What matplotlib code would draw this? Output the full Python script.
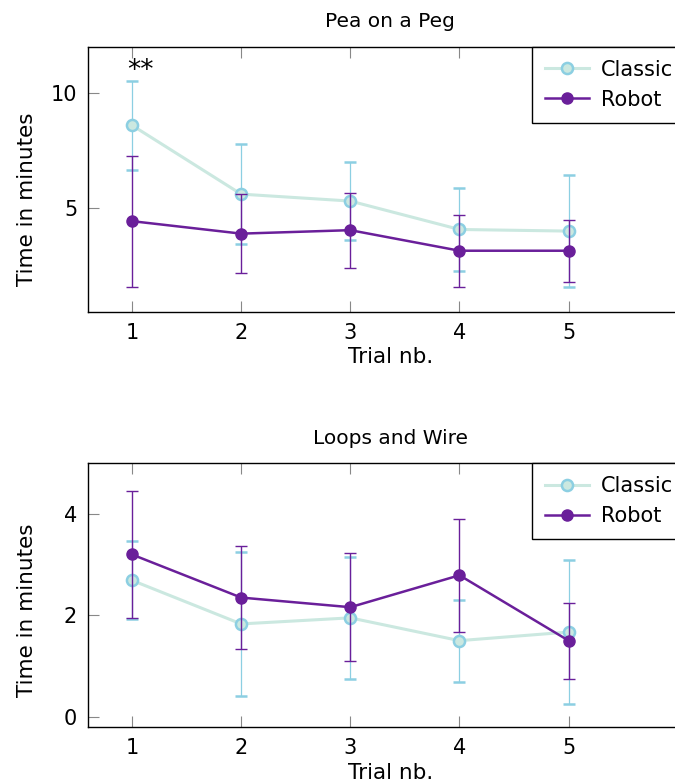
import numpy as np
import matplotlib
matplotlib.use("Agg")
import matplotlib.pyplot as plt
from matplotlib.lines import Line2D

trials = [1, 2, 3, 4, 5]

# Pea on a Peg
peg_classic = [8.60, 5.62, 5.32, 4.09, 4.02]
peg_classic_err = [1.93, 2.15, 1.67, 1.81, 2.44]
peg_robot = [4.45, 3.91, 4.06, 3.17, 3.17]
peg_robot_err = [2.83, 1.72, 1.62, 1.56, 1.34]

# Loops and Wire
wire_classic = [2.69, 1.83, 1.95, 1.50, 1.67]
wire_classic_err = [0.77, 1.42, 1.20, 0.81, 1.42]
wire_robot = [3.20, 2.35, 2.16, 2.79, 1.50]
wire_robot_err = [1.25, 1.02, 1.06, 1.11, 0.75]

classic_line = "#cbe8e0"
classic_edge = "#8ccfe2"
robot_col = "#6a1f9a"

fig = plt.figure(figsize=(6.75, 7.84), dpi=100)

# axes span in pixels: left 88, right 692 (past the figure edge, like the reference)
ax_w = (692 - 88.3) / 675


def draw(ax, classic, classic_err, robot, robot_err, title, ylim, yticks, ylab_y):
    ax.errorbar(trials, classic, yerr=classic_err, color=classic_line, lw=2.2,
                ecolor=classic_edge, elinewidth=0.9, capsize=4, capthick=0.9,
                marker="o", ms=8, mfc=classic_line, mec=classic_edge, mew=1.8,
                zorder=2)
    ax.errorbar(trials, robot, yerr=robot_err, color=robot_col, lw=1.8,
                ecolor=robot_col, elinewidth=1, capsize=4, capthick=1,
                marker="o", ms=8, mfc=robot_col, mec=robot_col,
                zorder=3)
    ax.set_xlim(0.6, 6.13)
    ax.set_ylim(*ylim)
    ax.set_xticks(trials)
    ax.set_yticks(yticks)
    ax.tick_params(direction="in", length=8, color="#888888", labelsize=15,
                   top=True, right=True, pad=8)
    ax.set_title(title, fontsize=14.5, pad=14)
    ax.set_xlabel("Trial nb.", fontsize=15.5, labelpad=3)
    ax.set_ylabel("Time in minutes", fontsize=15.5)
    ax.yaxis.set_label_coords(-0.085, ylab_y)
    for s in ax.spines.values():
        s.set_linewidth(1)
    handles = [
        Line2D([], [], color=classic_line, lw=2.2, marker="o", ms=8,
               mfc=classic_line, mec=classic_edge, mew=1.8),
        Line2D([], [], color=robot_col, lw=1.8, marker="o", ms=8,
               mfc=robot_col, mec=robot_col),
    ]
    leg = ax.legend(handles, ["Classic", "Robot"], loc="upper left",
                    bbox_to_anchor=((531.7 - 88.3) / 603.7, 1.0),
                    borderaxespad=0, fontsize=15, fancybox=False,
                    framealpha=1, edgecolor="black", handlelength=2.15,
                    handletextpad=0.55, borderpad=0.62, labelspacing=0.48)
    leg.get_frame().set_linewidth(1)


ax1 = fig.add_axes([88.3 / 675, 0.6024, ax_w, 0.9404 - 0.6024])
draw(ax1, peg_classic, peg_classic_err, peg_robot, peg_robot_err,
     "Pea on a Peg", (0.53, 12.0), [5, 10], 0.423)
ax1.text(1.08, 11.5, "**", ha="center", va="top", fontsize=19)

ax2 = fig.add_axes([88.3 / 675, 0.0723, ax_w, 0.4091 - 0.0723])
draw(ax2, wire_classic, wire_classic_err, wire_robot, wire_robot_err,
     "Loops and Wire", (-0.21, 5.0), [0, 2, 4], 0.444)

fig.savefig("out.png", dpi=100)
